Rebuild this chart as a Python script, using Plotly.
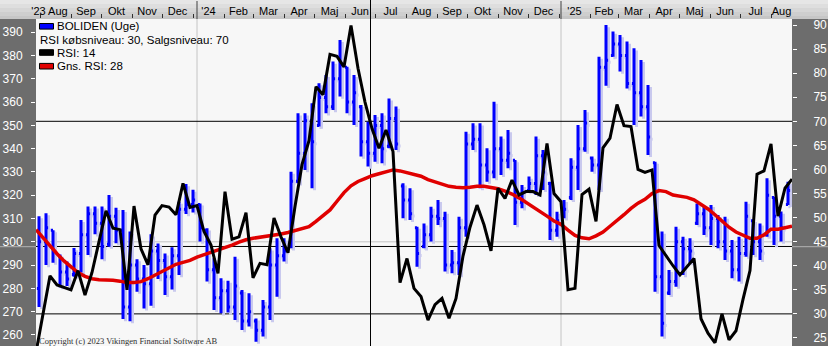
import pandas as pd
import plotly.graph_objects as go

# ---------------- data ----------------
# weekly points (Fridays); the first one lies just left of the visible window
week_dates = pd.date_range("2023-07-28", periods=109, freq="7D")
bar_dates = week_dates[1:]

bar_high = [
    311.0, 312.3, 305.0, 294.5, 291.5, 297.3, 309.4, 315.2, 315.2, 315.2,
    320.1, 314.6, 313.7, 304.4, 292.5, 290.0, 303.2, 299.3, 295.0, 297.7,
    317.2, 324.8, 322.4, 316.5, 305.8, 292.9, 284.3, 283.3, 293.6, 279.3,
    277.9, 267.1, 275.0, 297.2, 301.5, 301.5, 330.1, 355.2, 355.2, 359.5,
    368.1, 371.7, 377.4, 386.7, 375.2, 371.7, 358.8, 351.6, 354.5, 355.2,
    361.6, 358.1, 325.1, 323.0, 306.5, 307.9, 315.1, 318.0, 312.9, 296.5,
    310.8, 347.3, 350.9, 350.9, 340.2, 360.2, 345.2, 348.0, 335.1, 324.4,
    328.0, 345.2, 339.4, 325.8, 312.9, 318.0, 335.9, 350.2, 356.6, 336.6,
    379.5, 393.1, 390.3, 388.8, 386.0, 383.1, 378.1, 367.4, 334.4, 304.4,
    287.9, 306.5, 302.2, 301.5, 316.5, 315.1, 315.8, 311.5, 310.8, 300.8,
    302.2, 317.2, 309.4, 307.9, 327.3, 319.4, 313.0, 325.8]
bar_low = [
    272.0, 290.0, 291.0, 280.5, 281.0, 285.0, 286.8, 294.3, 303.2, 292.5,
    297.9, 299.4, 266.8, 265.9, 278.6, 271.4, 272.5, 284.0, 277.2, 279.5,
    285.7, 311.9, 312.6, 300.1, 282.9, 270.7, 269.3, 269.6, 266.4, 262.1,
    263.6, 257.1, 259.3, 266.4, 276.4, 291.5, 297.2, 325.1, 330.8, 323.0,
    349.5, 355.2, 356.6, 362.4, 355.2, 350.2, 336.6, 332.3, 334.4, 333.7,
    340.2, 339.4, 310.1, 309.4, 289.3, 297.2, 300.1, 307.2, 287.2, 286.5,
    285.7, 302.2, 339.4, 323.0, 325.8, 327.3, 328.7, 331.6, 307.2, 314.4,
    321.5, 320.1, 322.3, 300.8, 302.2, 310.1, 318.0, 322.3, 338.7, 330.1,
    322.3, 367.0, 379.5, 373.1, 365.9, 350.2, 353.8, 337.3, 278.6, 259.3,
    277.2, 280.7, 285.7, 290.8, 307.2, 302.9, 298.6, 297.2, 292.2, 284.3,
    282.9, 293.6, 294.3, 292.2, 302.2, 298.6, 300.1, 315.8]
bar_open = [
    280, 300, 305, 294, 287, 286, 295, 303, 312, 308,
    299, 311, 305, 272, 290, 284, 282, 296, 292, 285,
    294, 314, 316, 316, 305, 288, 276, 279, 272, 278,
    266, 266, 262, 272, 290, 294, 298, 326, 338, 352,
    350, 362, 358, 370, 375, 360, 358, 343, 338, 350,
    341, 353, 324, 318, 306, 298, 303, 311, 310, 290,
    291, 306, 342, 344, 333, 330, 340, 335, 335, 317,
    322, 325, 337, 325, 305, 311, 319, 332, 340, 336,
    333, 375, 380, 385, 380, 368, 364, 358, 334, 285,
    278, 283, 300, 297, 308, 312, 306, 310, 300, 296,
    288, 295, 309, 300, 303, 319, 311, 316]
bar_close = [
    300, 306, 296, 287, 284, 295, 303, 312, 308, 298,
    311, 305, 272, 290, 284, 282, 296, 292, 285, 294,
    314, 316, 318, 306, 288, 276, 279, 272, 281, 266,
    270, 262, 272, 290, 294, 296, 326, 338, 352, 343,
    362, 358, 370, 376, 360, 364, 343, 338, 350, 340,
    353, 342, 318, 312, 295, 303, 311, 310, 290, 291,
    306, 342, 344, 333, 330, 340, 335, 338, 317, 318,
    325, 337, 330, 305, 309, 314, 332, 340, 351, 333,
    375, 378, 385, 380, 368, 364, 358, 345, 285, 265,
    283, 300, 297, 296, 312, 306, 310, 300, 296, 288,
    295, 311, 300, 296, 320, 311, 306, 322]

rsi_14 = [
    22.0,
    30.0, 37.9, 36.0, 35.5, 35.0, 39.0, 33.9, 38.6, 45.0, 51.4,
    47.8, 47.5, 35.0, 52.4, 43.5, 40.2, 50.5, 52.5, 52.2, 50.6,
    57.1, 52.1, 52.5, 47.1, 44.3, 38.4, 55.4, 45.5, 46.0, 51.0,
    37.5, 40.5, 40.2, 49.9, 46.0, 42.7, 52.3, 61.0, 66.0, 77.2,
    75.5, 83.9, 83.5, 81.3, 89.9, 81.0, 74.0, 68.5, 64.4, 68.2,
    63.7, 36.5, 41.5, 35.3, 33.6, 28.7, 31.9, 33.2, 29.1, 33.2,
    42.0, 48.0, 52.6, 48.5, 43.1, 56.1, 54.0, 57.8, 54.7, 55.4,
    55.4, 54.7, 65.4, 55.0, 53.3, 35.0, 35.3, 54.8, 55.9, 49.2,
    64.5, 66.5, 73.5, 69.1, 68.9, 60.0, 59.4, 59.9, 44.2, 42.0,
    40.0, 38.1, 39.8, 41.5, 29.0, 26.0, 24.0, 30.0, 24.6, 26.5,
    33.0, 39.0, 59.0, 59.7, 65.3, 50.3, 56.1, 58.0]
rsi_avg_28 = [
    47.5,
    45.8, 44.3, 42.5, 41.0, 39.8, 38.6, 37.8, 37.3, 37.1, 37.1,
    37.0, 36.8, 36.5, 36.5, 36.7, 37.3, 38.1, 38.8, 39.6, 40.3,
    40.7, 41.1, 41.8, 42.3, 42.8, 43.2, 43.8, 44.3, 44.9, 45.4,
    45.7, 45.9, 46.1, 46.3, 46.6, 46.9, 47.3, 47.6, 48.1, 49.2,
    50.4, 51.6, 53.4, 55.2, 56.6, 57.5, 58.1, 58.7, 59.1, 59.5,
    59.9, 59.7, 59.3, 59.0, 58.6, 57.9, 57.4, 57.0, 56.5, 56.3,
    56.2, 56.3, 56.5, 56.5, 56.3, 56.0, 55.5, 54.9, 54.1, 53.2,
    52.3, 51.3, 50.3, 49.3, 48.6, 47.4, 46.3, 45.8, 45.6, 46.2,
    47.0, 48.2, 49.3, 50.6, 51.9, 53.0, 53.8, 55.0, 55.6, 55.4,
    54.7, 54.4, 54.2, 53.7, 52.8, 51.8, 50.6, 49.3, 48.0, 47.0,
    46.3, 45.7, 45.7, 46.4, 47.6, 47.6, 47.9, 48.2]

month_starts = pd.date_range("2023-08-01", "2025-08-01", freq="MS")
month_labels = ["'23 Aug", "Sep", "Okt", "Nov", "Dec", "'24", "Feb", "Mar", "Apr",
                "Maj", "Jun", "Jul", "Aug", "Sep", "Okt", "Nov", "Dec", "'25",
                "Feb", "Mar", "Apr", "Maj", "Jun", "Jul", "Aug"]
price_ticks = list(range(260, 391, 10))
rsi_ticks = list(range(25, 91, 5))
rsi_levels = [30, 70]
price_ref = 300
year_marks = ["2024-01-05", "2025-01-03"]
cursor_date = "2024-06-26 12:00"
cursor_rsi = 44.0

legend_rows = [("BOLIDEN (Uge)", "#0000ff"),
               ("RSI købsniveau: 30, Salgsniveau: 70", None),
               ("RSI: 14", "#000000"),
               ("Gns. RSI: 28", "#e00000")]
copyright_text = "Copyright (c) 2023 Vikingen Financial Software AB"

# ---------------- geometry / style ----------------
W, H = 828, 346
ML, MR, MT, MB = 36, 36, 19, 0
PW, PH = W - ML - MR, H - MT - MB


def pxx(p):
    return (p - ML) / PW


def pxy(p):
    return (H - p) / PH


VIEW0, VIEW1 = pd.Timestamp("2023-07-28"), pd.Timestamp("2025-08-22")
BAR_SHIFT = pd.Timedelta(days=4)
SHADOW_SHIFT = pd.Timedelta(days=1.5)
P_RANGE = [255.25, 395.7]
R_RANGE = [23.33, 91.25]
SHADOW_DY = 0.9

STRIP = "#6d6d6d"
BG = "#f7f7f7"
FONT = "Liberation Sans, Arial, sans-serif"

label_pos = []
for ms in month_starts:
    me = ms + pd.offsets.MonthBegin(1)
    lo, hi = max(ms, VIEW0), min(me, VIEW1)
    label_pos.append(lo + (hi - lo) / 2)
label_pos[0] = label_pos[0] - pd.Timedelta(days=6)

fig = go.Figure()

# shadow of the bars
fig.add_trace(go.Ohlc(
    x=bar_dates, open=bar_open, high=bar_high, low=bar_low, close=bar_close,
    xaxis="x", yaxis="y", tickwidth=0.3, hoverinfo="skip", showlegend=False,
    increasing=dict(line=dict(color="#c9c9ee", width=3)),
    decreasing=dict(line=dict(color="#c9c9ee", width=3))))
# price bars
fig.add_trace(go.Ohlc(
    x=bar_dates, open=bar_open, high=bar_high, low=bar_low, close=bar_close,
    xaxis="x2", yaxis="y2", tickwidth=0.3, name="BOLIDEN (Uge)", showlegend=False,
    increasing=dict(line=dict(color="#0000ff", width=3)),
    decreasing=dict(line=dict(color="#0000ff", width=3))))
# average RSI and RSI
fig.add_trace(go.Scatter(x=week_dates, y=rsi_avg_28, xaxis="x3", yaxis="y3", mode="lines",
                         line=dict(color="#e00000", width=3.5), name="Gns. RSI: 28",
                         showlegend=False))
fig.add_trace(go.Scatter(x=week_dates, y=rsi_14, xaxis="x3", yaxis="y3", mode="lines",
                         line=dict(color="#000000", width=3), name="RSI: 14",
                         showlegend=False))

shapes = []
# header band (gradient)
hdr = ["#e6e6e6", "#dedede", "#d6d6d6", "#cecece", "#c6c6c6"]
edges = [0, 4, 8, 12, 16, 19]
for i, c in enumerate(hdr):
    shapes.append(dict(type="rect", xref="paper", yref="paper", x0=pxx(0), x1=pxx(W),
                       y0=pxy(edges[i + 1]), y1=pxy(edges[i]), fillcolor=c,
                       line=dict(width=0), layer="below"))
# year dividers
for d in year_marks:
    shapes.append(dict(type="line", xref="x3", yref="paper", x0=d, x1=d,
                       y0=pxy(19), y1=pxy(1), line=dict(color="#404040", width=1), layer="below"))
    shapes.append(dict(type="line", xref="x3", yref="y3", x0=d, x1=d,
                       y0=R_RANGE[0], y1=R_RANGE[1], line=dict(color="#c4c4c4", width=1),
                       layer="below"))
# price reference line
shapes.append(dict(type="line", xref="x3", yref="y2", x0=VIEW0, x1=VIEW1, y0=price_ref,
                   y1=price_ref, line=dict(color="#c4c4c4", width=1), layer="below"))
# RSI buy / sell levels
for lv in rsi_levels:
    shapes.append(dict(type="line", xref="x3", yref="y3", x0=VIEW0, x1=VIEW1, y0=lv, y1=lv,
                       line=dict(color="#000000", width=1), layer="below"))
# cursor cross
shapes.append(dict(type="line", xref="x3", yref="y3", x0=VIEW0, x1=VIEW1, y0=cursor_rsi,
                   y1=cursor_rsi, line=dict(color="#000000", width=1), layer="below"))
cy = pxy(246.7)
for a, b in [(pxx(0), 0), (1, pxx(W))]:
    shapes.append(dict(type="line", xref="paper", yref="paper", x0=a, x1=b, y0=cy, y1=cy,
                       line=dict(color="#b4b4b4", width=1), layer="below"))
shapes.append(dict(type="line", xref="x3", yref="y3", x0=cursor_date, x1=cursor_date,
                   y0=R_RANGE[0], y1=R_RANGE[1], line=dict(color="#000000", width=1),
                   layer="below"))
shapes.append(dict(type="line", xref="x3", yref="paper", x0=cursor_date, x1=cursor_date,
                   y0=1, y1=pxy(0), line=dict(color="#000000", width=1), layer="below"))

annotations = []
row_y = [26.3, 40.0, 52.5, 66.2]
for (txt, col), yc in zip(legend_rows, row_y):
    if col is not None:
        shapes.append(dict(type="rect", xref="paper", yref="paper", x0=pxx(39.5), x1=pxx(53.5),
                           y0=pxy(yc + 2.8), y1=pxy(yc - 2.8), fillcolor=col,
                           line=dict(color="#000000", width=1), layer="above"))
        xt = 54.5
    else:
        xt = 38.0
    annotations.append(dict(xref="paper", yref="paper", x=pxx(xt), y=pxy(yc), text=txt,
                            showarrow=False, xanchor="left", yanchor="middle",
                            font=dict(family=FONT, size=11.5, color="#000000")))
annotations.append(dict(xref="paper", yref="paper", x=pxx(37), y=pxy(341), text=copyright_text,
                        showarrow=False, xanchor="left", yanchor="middle",
                        font=dict(family="Liberation Serif, Times New Roman, serif", size=8.5,
                                  color="#303030")))

fig.update_layout(
    width=W, height=H,
    margin=dict(l=ML, r=MR, t=MT, b=MB, pad=0),
    paper_bgcolor=STRIP, plot_bgcolor=BG, showlegend=False,
    font=dict(family=FONT, size=11, color="#000000"),
    xaxis=dict(type="date", range=[VIEW0 + SHADOW_SHIFT, VIEW1 + SHADOW_SHIFT], visible=False,
               rangeslider=dict(visible=False), fixedrange=True),
    xaxis2=dict(type="date", overlaying="x", range=[VIEW0 + BAR_SHIFT, VIEW1 + BAR_SHIFT],
                visible=False, rangeslider=dict(visible=False)),
    xaxis3=dict(type="date", overlaying="x", side="top", range=[VIEW0, VIEW1],
                tickmode="array", tickvals=label_pos, ticktext=month_labels, ticks="",
                showgrid=False, zeroline=False, showline=False,
                tickfont=dict(family=FONT, size=11, color="#000000"), ticklabelstandoff=1,
                minor=dict(tickmode="array", tickvals=list(month_starts), ticks="outside",
                           ticklen=4, tickwidth=1, tickcolor="#303030", showgrid=False)),
    yaxis=dict(range=[P_RANGE[0] + SHADOW_DY, P_RANGE[1] + SHADOW_DY], visible=False),
    yaxis2=dict(overlaying="y", side="left", range=P_RANGE, tickmode="array",
                tickvals=price_ticks, ticks="outside", ticklen=4, tickcolor="#ffffff",
                tickfont=dict(family=FONT, size=12, color="#ffffff"), showgrid=False,
                zeroline=False, showline=False, ticklabelstandoff=6),
    yaxis3=dict(overlaying="y", side="right", range=R_RANGE, tickmode="array",
                tickvals=rsi_ticks, ticks="outside", ticklen=4, tickcolor="#ffffff",
                tickfont=dict(family=FONT, size=12, color="#ffffff"), showgrid=False,
                zeroline=False, showline=False, ticklabelstandoff=14),
    shapes=shapes, annotations=annotations,
)

fig.write_html("out.html")
